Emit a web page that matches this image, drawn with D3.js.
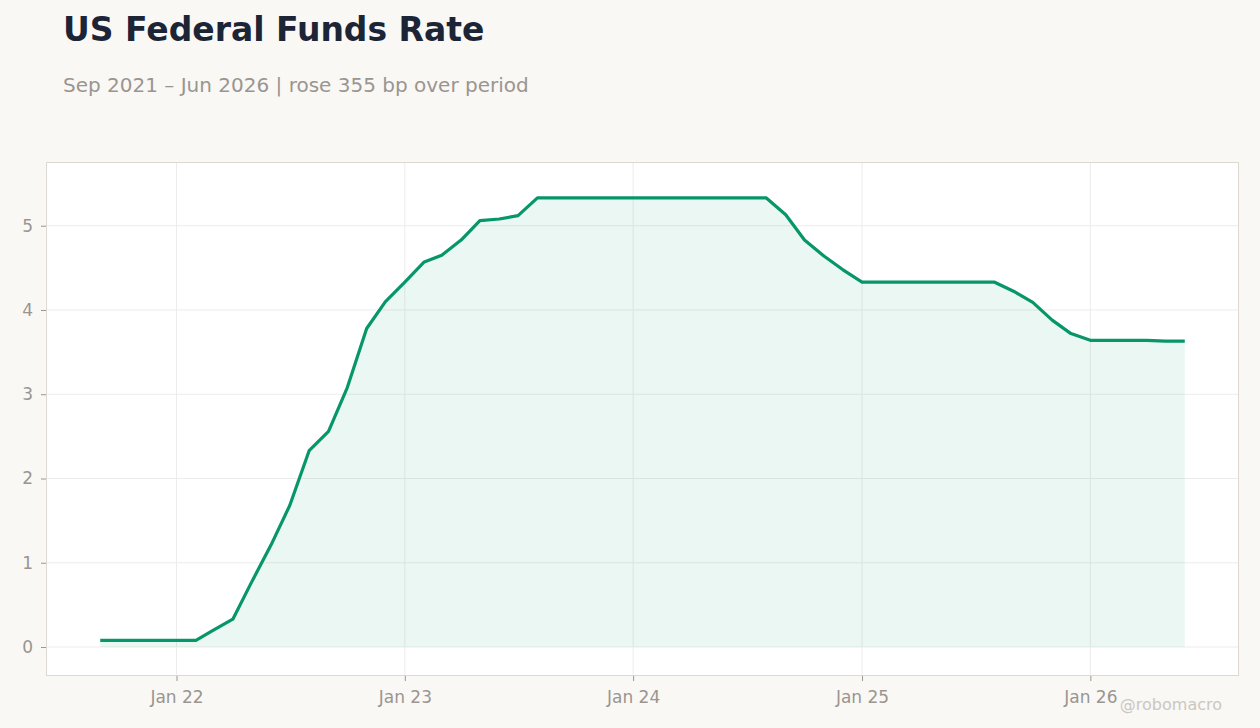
<!DOCTYPE html>
<html>
<head>
<meta charset="utf-8">
<script src="https://cdn.jsdelivr.net/npm/d3@7"></script>
<style>
  body { margin: 0; background: #f9f8f5; }
  svg { display: block; font-family: "DejaVu Sans", sans-serif; }
</style>
</head>
<body>
<script>
// monthly effective fed funds rate, Sep 2021 .. Jun 2026
const months = [
  "2021-09","2021-10","2021-11","2021-12",
  "2022-01","2022-02","2022-03","2022-04","2022-05","2022-06","2022-07","2022-08","2022-09","2022-10","2022-11","2022-12",
  "2023-01","2023-02","2023-03","2023-04","2023-05","2023-06","2023-07","2023-08","2023-09","2023-10","2023-11","2023-12",
  "2024-01","2024-02","2024-03","2024-04","2024-05","2024-06","2024-07","2024-08","2024-09","2024-10","2024-11","2024-12",
  "2025-01","2025-02","2025-03","2025-04","2025-05","2025-06","2025-07","2025-08","2025-09","2025-10","2025-11","2025-12",
  "2026-01","2026-02","2026-03","2026-04","2026-05","2026-06"
];
const rates = [
  0.08, 0.08, 0.08, 0.08,
  0.08, 0.08, 0.20, 0.33, 0.77, 1.21, 1.68, 2.33, 2.56, 3.08, 3.78, 4.10,
  4.33, 4.57, 4.65, 4.83, 5.06, 5.08, 5.12, 5.33, 5.33, 5.33, 5.33, 5.33,
  5.33, 5.33, 5.33, 5.33, 5.33, 5.33, 5.33, 5.33, 5.13, 4.83, 4.64, 4.48,
  4.33, 4.33, 4.33, 4.33, 4.33, 4.33, 4.33, 4.33, 4.22, 4.09, 3.88, 3.72,
  3.64, 3.64, 3.64, 3.64, 3.63, 3.63
];
const xTickLabels = ["Jan 22", "Jan 23", "Jan 24", "Jan 25", "Jan 26"];
const yTicks = [0, 1, 2, 3, 4, 5];

const parseMonth = d3.timeParse("%Y-%m");
const data = months.map((m, i) => ({ date: parseMonth(m), value: rates[i] }));

const W = 1260, H = 728;
const margin = { top: 162, left: 46, bottom: 52, right: 21 };
const width = W - margin.left - margin.right;
const height = H - margin.top - margin.bottom;

const svg = d3.select("body").append("svg")
  .attr("width", W)
  .attr("height", H);

// title + subtitle
svg.append("text")
  .attr("x", 63).attr("y", 41)
  .attr("font-size", 33).attr("font-weight", "bold")
  .attr("fill", "#1c2536")
  .text("US Federal Funds Rate");

svg.append("text")
  .attr("x", 63).attr("y", 92)
  .attr("font-size", 20)
  .attr("fill", "#9a9590")
  .text("Sep 2021 – Jun 2026 | rose 355 bp over period");

const g = svg.append("g")
  .attr("transform", `translate(${margin.left}, ${margin.top})`);

// scales, 5% padding on x
const ext = d3.extent(data, d => d.date);
const span = ext[1] - ext[0];
const x = d3.scaleTime()
  .domain([new Date(+ext[0] - span * 0.05), new Date(+ext[1] + span * 0.05)])
  .range([0, width]);
const y = d3.scaleLinear()
  .domain([-0.344, d3.max(rates) * 1.08])
  .range([height, 0]);

const xTickDates = xTickLabels.map(l => parseMonth("20" + l.slice(4) + "-01"));

g.append("rect")
  .attr("width", width).attr("height", height)
  .attr("fill", "#ffffff");

// gridlines
g.append("g").selectAll("line")
  .data(yTicks).enter().append("line")
  .attr("x1", 0).attr("x2", width)
  .attr("y1", d => y(d)).attr("y2", d => y(d))
  .attr("stroke", "#eeecea").attr("stroke-width", 1);

g.append("g").selectAll("line")
  .data(xTickDates).enter().append("line")
  .attr("x1", d => x(d)).attr("x2", d => x(d))
  .attr("y1", 0).attr("y2", height)
  .attr("stroke", "#eeecea").attr("stroke-width", 1);

// area + line
g.append("path")
  .datum(data)
  .attr("fill", "#059669")
  .attr("fill-opacity", 0.08)
  .attr("d", d3.area().x(d => x(d.date)).y0(y(0)).y1(d => y(d.value)));

g.append("path")
  .datum(data)
  .attr("fill", "none")
  .attr("stroke", "#079669")
  .attr("stroke-width", 3.2)
  .attr("stroke-linejoin", "round")
  .attr("d", d3.line().x(d => x(d.date)).y(d => y(d.value)));

// frame
g.append("rect")
  .attr("x", 0.5).attr("y", 0.5)
  .attr("width", width - 1).attr("height", height - 1)
  .attr("fill", "none")
  .attr("stroke", "#ddd8d1");

// axes
const xAxis = g.append("g")
  .attr("transform", `translate(0, ${height})`)
  .call(d3.axisBottom(x).tickValues(xTickDates)
    .tickFormat((d, i) => xTickLabels[i]).tickSize(5).tickPadding(10));

const yAxis = g.append("g")
  .call(d3.axisLeft(y).tickValues(yTicks).tickFormat(d3.format("d"))
    .tickSize(5).tickPadding(8));

[xAxis, yAxis].forEach(a => {
  a.select(".domain").remove();
  a.selectAll(".tick line").attr("stroke", "#9a9590");
  a.selectAll(".tick text")
    .attr("fill", "#9a9590")
    .attr("font-size", 17)
    .attr("font-family", "DejaVu Sans, sans-serif");
});

// watermark
svg.append("text")
  .attr("x", 1222).attr("y", 710)
  .attr("text-anchor", "end")
  .attr("font-size", 16)
  .attr("fill", "#cbc7c2")
  .text("@robomacro");
</script>
</body>
</html>
